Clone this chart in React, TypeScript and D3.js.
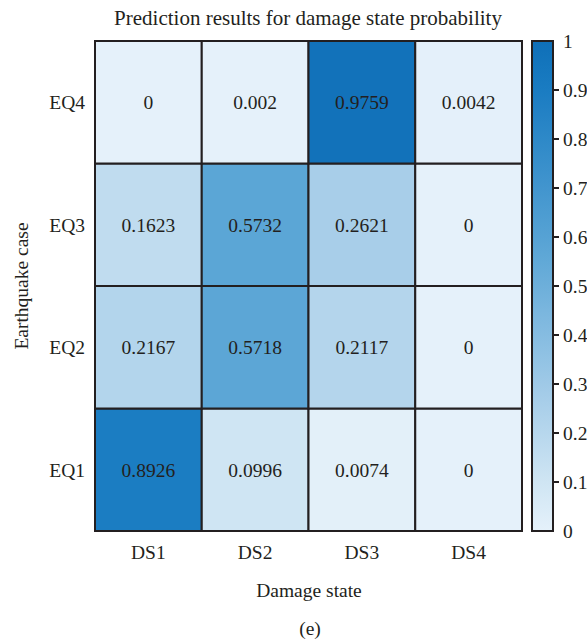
import React from "react";
import * as d3 from "d3";

const damageStates = ["DS1", "DS2", "DS3", "DS4"];
const earthquakes = ["EQ1", "EQ2", "EQ3", "EQ4"];
const eq1 = [0.8926, 0.0996, 0.0074, 0];
const eq2 = [0.2167, 0.5718, 0.2117, 0];
const eq3 = [0.1623, 0.5732, 0.2621, 0];
const eq4 = [0, 0.002, 0.9759, 0.0042];
const valueLabels = [
  ["0.8926", "0.0996", "0.0074", "0"],
  ["0.2167", "0.5718", "0.2117", "0"],
  ["0.1623", "0.5732", "0.2621", "0"],
  ["0", "0.002", "0.9759", "0.0042"],
];
const colorTicks = [0, 0.1, 0.2, 0.3, 0.4, 0.5, 0.6, 0.7, 0.8, 0.9, 1];
const colorTickLabels = ["0", "0.1", "0.2", "0.3", "0.4", "0.5", "0.6", "0.7", "0.8", "0.9", "1"];

const W = 587;
const H = 644;
const left = 95, right = 522, top = 41, bottom = 531;
const cbX = 532, cbW = 21;
const font = "'Liberation Serif', 'Times New Roman', serif";
const ink = "#231f20";
const fs = 19.5;

export default function App() {
  const rows = [eq1, eq2, eq3, eq4];
  const x = d3.scaleBand().domain(damageStates).range([left, right]);
  const y = d3.scaleBand().domain(earthquakes).range([bottom, top]);
  const color = d3
    .scaleLinear<string>()
    .domain([0, 0.1, 0.25, 0.57, 0.9, 1])
    .range(["#e5f1fa", "#cfe5f3", "#abd0ea", "#5ca6d6", "#1a7cc2", "#0f6fb8"])
    .interpolate(d3.interpolateRgb);
  const cy = d3.scaleLinear().domain([0, 1]).range([bottom, top]);
  const stops = d3.range(0, 1.0001, 0.05);

  return (
    <svg width={W} height={H} style={{ display: "block", position: "absolute", left: 0, top: 0, background: "#fff" }}>
      <defs>
        <linearGradient id="cb" x1="0" y1="1" x2="0" y2="0">
          {stops.map((s) => (
            <stop key={s} offset={s} stopColor={color(s)} />
          ))}
        </linearGradient>
      </defs>
      <text x={308} y={18} dy="0.35em" textAnchor="middle" fontFamily={font} fontSize={21} fill={ink}>
        Prediction results for damage state probability
      </text>
      {rows.map((vals, ri) =>
        vals.map((v, ci) => (
          <g key={`${ri}-${ci}`}>
            <rect
              x={x(damageStates[ci])}
              y={y(earthquakes[ri])}
              width={x.bandwidth()}
              height={y.bandwidth()}
              fill={color(v)}
              stroke={ink}
              strokeWidth={2}
            />
            <text
              x={x(damageStates[ci])! + x.bandwidth() / 2}
              y={y(earthquakes[ri])! + y.bandwidth() / 2}
              dy="0.35em"
              textAnchor="middle"
              fontFamily={font}
              fontSize={fs}
              fill={ink}
            >
              {valueLabels[ri][ci]}
            </text>
          </g>
        ))
      )}
      {earthquakes.map((e) => (
        <text key={e} x={85} y={y(e)! + y.bandwidth() / 2} dy="0.35em" textAnchor="end" fontFamily={font} fontSize={fs} fill={ink}>
          {e}
        </text>
      ))}
      {damageStates.map((d) => (
        <text key={d} x={x(d)! + x.bandwidth() / 2} y={552} dy="0.35em" textAnchor="middle" fontFamily={font} fontSize={fs} fill={ink}>
          {d}
        </text>
      ))}
      <text x={309} y={590} dy="0.35em" textAnchor="middle" fontFamily={font} fontSize={fs} fill={ink}>
        Damage state
      </text>
      <text x={310} y={628} dy="0.35em" textAnchor="middle" fontFamily={font} fontSize={fs} fill={ink}>
        (e)
      </text>
      <text
        transform={`translate(21, ${(top + bottom) / 2}) rotate(-90)`}
        dy="0.35em"
        textAnchor="middle"
        fontFamily={font}
        fontSize={fs}
        fill={ink}
      >
        Earthquake case
      </text>
      <rect x={cbX} y={top} width={cbW} height={bottom - top} fill="url(#cb)" stroke={ink} strokeWidth={2} />
      {colorTicks.map((t, i) => (
        <g key={t}>
          {t > 0 && t < 1 && <line x1={cbX + cbW - 1} x2={cbX + cbW + 6} y1={cy(t)} y2={cy(t)} stroke={ink} strokeWidth={2} />}
          <text x={563} y={cy(t)} dy="0.35em" fontFamily={font} fontSize={fs} fill={ink}>
            {colorTickLabels[i]}
          </text>
        </g>
      ))}
    </svg>
  );
}
